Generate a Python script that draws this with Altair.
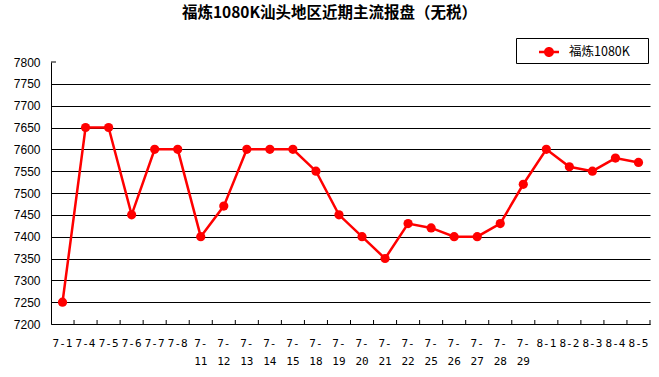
import altair as alt
import pandas as pd

dates = ["7-1", "7-4", "7-5", "7-6", "7-7", "7-8", "7-11", "7-12", "7-13", "7-14",
         "7-15", "7-18", "7-19", "7-20", "7-21", "7-22", "7-25", "7-26", "7-27", "7-28",
         "7-29", "8-1", "8-2", "8-3", "8-4", "8-5"]
prices = [7250, 7650, 7650, 7450, 7600, 7600, 7400, 7470, 7600, 7600,
          7600, 7550, 7450, 7400, 7350, 7430, 7420, 7400, 7400, 7430,
          7520, 7600, 7560, 7550, 7580, 7570]
series_name = "福炼1080K"
title_text = "福炼1080K汕头地区近期主流报盘（无税）"
y_ticks = list(range(7200, 7801, 50))
y_min, y_max = 7200, 7800

df = pd.DataFrame({"date": dates, "price": prices, "series": series_name})

W, H = 599, 262

xscale = alt.Scale(type="band", paddingInner=0, paddingOuter=0)
yscale = alt.Scale(domain=[y_min, y_max], nice=False, zero=False)

xaxis = alt.Axis(
    title=None, labelAngle=0, ticks=False, domainColor="black",
    labelFont="DejaVu Sans Mono", labelFontSize=11, labelColor="black",
    labelPadding=13, labelBaseline="top", labelLineHeight=18,
    labelOverlap=False,
    labelExpr="length(datum.label) > 3 ? [substring(datum.label, 0, 2), substring(datum.label, 2)] : datum.label",
)
yaxis = alt.Axis(
    title=None, values=y_ticks, ticks=False, domainColor="black", format="d",
    labelFont="Liberation Sans", labelFontSize=12, labelColor="black",
    labelPadding=11, labelOverlap=False, grid=True, gridWidth=1,
    gridColor={"condition": {"test": f"datum.value >= {y_max}", "value": "transparent"}, "value": "black"},
)

xenc = alt.X("date:N", sort=dates, bandPosition=0.5, scale=xscale, axis=xaxis)
yenc = alt.Y("price:Q", scale=yscale, axis=yaxis)

color = alt.Color(
    "series:N",
    scale=alt.Scale(domain=[series_name], range=["#ff0000"]),
    legend=alt.Legend(
        title="\u00a0", titleOrient="right", titlePadding=14, titleFontSize=6,
        orient="none", legendX=465, legendY=-24,
        strokeColor="black", fillColor="white", padding=4,
        symbolType=("M -1 -0.12 L 1 -0.12 L 1 0.12 L -1 0.12 Z "
                    "M 0.5 0 A 0.5 0.5 0 1 1 -0.5 0 A 0.5 0.5 0 1 1 0.5 0 Z"),
        symbolSize=400, symbolFillColor="#ff0000", symbolStrokeColor="#ff0000",
        symbolStrokeWidth=0, symbolOffset=19, labelOffset=10,
        labelFont="Noto Sans CJK SC", labelFontSize=12.5, labelColor="black",
    ),
)

base = alt.Chart(df)
line = base.mark_line(strokeWidth=2.5).encode(x=xenc, y=yenc, color=color)
pts = base.mark_point(filled=True, size=85, opacity=1).encode(x=xenc, y=yenc, color=color)

xticks = base.mark_rule(color="black", strokeWidth=1).encode(
    x=alt.X("date:N", sort=dates, bandPosition=1, scale=xscale, axis=xaxis),
    y=alt.value(H - 4), y2=alt.value(H),
)
ystub = alt.Chart(pd.DataFrame({"price": [y_max]})).mark_rule(color="black").encode(
    y=alt.Y("price:Q", scale=yscale, axis=yaxis), x=alt.value(0), x2=alt.value(5),
)

chart = alt.layer(line, pts, xticks, ystub).properties(
    width=W, height=H,
    padding={"left": 51, "top": 62, "right": 9, "bottom": 53},
    autosize=alt.AutoSizeParams(type="none"),
    title=alt.TitleParams(
        title_text, anchor="middle", dx=-21, offset=16,
        font="Noto Sans CJK SC", fontSize=15.5, fontWeight="bold", color="black",
    ),
    background="white",
).configure_view(stroke=None)

chart.save("out.html", embed_options={"renderer": "svg", "actions": False})
